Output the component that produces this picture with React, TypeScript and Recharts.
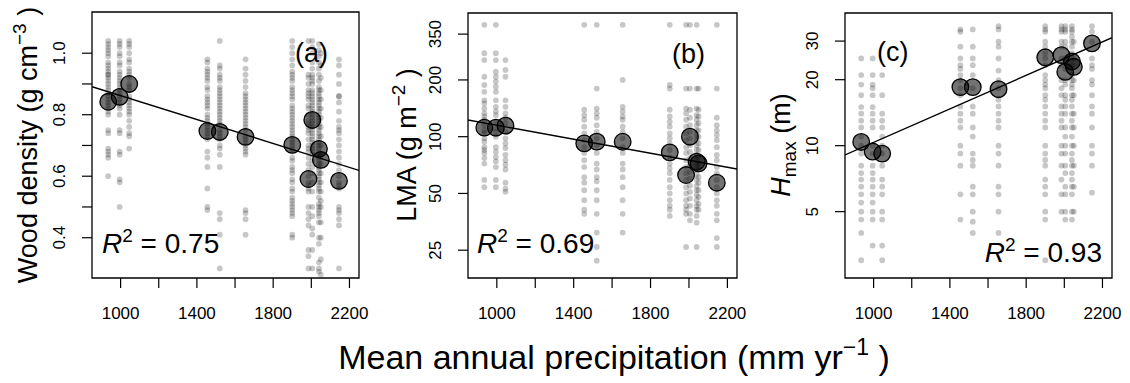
import React from 'react';
import { ScatterChart, Scatter, XAxis, YAxis, ReferenceArea } from 'recharts';

const FONT = "'Liberation Sans', Arial, Helvetica, sans-serif";

// mean annual precipitation of each site (mm/yr)
const sites = [935, 995, 1045, 1455, 1520, 1655, 1900, 1985, 2005, 2040, 2050, 2145];
const xTicks = [1000, 1200, 1400, 1600, 1800, 2000, 2200];
const xLabeled = [1000, 1400, 1800, 2200];

// site means
const densityMeans = [0.842, 0.858, 0.9, 0.747, 0.744, 0.728, 0.702, 0.591, 0.783, 0.689, 0.653, 0.585];
const lmaMeans = [111.7, 111.6, 114.4, 92.2, 94.1, 94.0, 82.6, 62.6, 100, 73.7, 72.2, 57];
const hmaxMeans = [10.4, 9.4, 9.2, 18.5, 18.5, 18.1, 25.3, 25.9, 21.7, 24.2, 22.9, 29.3];

// fitted lines (ends at the x-axis limits)
const densityFit = [{ x: 850, y: 0.891 }, { x: 2250, y: 0.619 }];
const lmaFit = [{ x: 850, y: 122.7 }, { x: 2250, y: 67.4 }];
const hmaxFit = [{ x: 850, y: 9.07 }, { x: 2250, y: 31.1 }];

// individual trees, one list per site
const densityDots = [
  [1.04, 1.03, 1.02, 1.01, 1.0, 0.99, 0.97, 0.96, 0.95, 0.94, 0.93, 0.93, 0.92, 0.91, 0.9, 0.89, 0.88, 0.87, 0.86, 0.85, 0.84, 0.83, 0.82, 0.81, 0.8, 0.75, 0.74, 0.69, 0.68, 0.67, 0.66, 0.6],
  [1.04, 1.03, 1.02, 1.0, 0.99, 0.97, 0.96, 0.94, 0.93, 0.92, 0.91, 0.9, 0.89, 0.88, 0.87, 0.86, 0.85, 0.84, 0.83, 0.82, 0.8, 0.75, 0.74, 0.68, 0.67, 0.59, 0.58, 0.5],
  [1.04, 1.03, 1.02, 1.0, 0.98, 0.97, 0.95, 0.94, 0.93, 0.92, 0.9, 0.89, 0.88, 0.86, 0.85, 0.84, 0.83, 0.82, 0.81, 0.8, 0.78, 0.76, 0.74, 0.73, 0.69],
  [0.98, 0.97, 0.95, 0.94, 0.93, 0.92, 0.91, 0.89, 0.88, 0.86, 0.85, 0.84, 0.83, 0.82, 0.8, 0.79, 0.78, 0.77, 0.76, 0.75, 0.74, 0.73, 0.72, 0.68, 0.66, 0.63, 0.56, 0.5, 0.49],
  [1.04, 0.96, 0.95, 0.93, 0.92, 0.91, 0.89, 0.88, 0.87, 0.86, 0.85, 0.84, 0.83, 0.82, 0.81, 0.8, 0.79, 0.78, 0.77, 0.75, 0.74, 0.73, 0.72, 0.7, 0.69, 0.67, 0.63, 0.48, 0.46, 0.41, 0.3],
  [0.98, 0.95, 0.93, 0.91, 0.89, 0.87, 0.86, 0.85, 0.84, 0.83, 0.82, 0.81, 0.8, 0.79, 0.78, 0.77, 0.76, 0.75, 0.73, 0.72, 0.71, 0.7, 0.69, 0.68, 0.67, 0.49, 0.48, 0.46, 0.41],
  [1.04, 1.02, 1.0, 0.98, 0.96, 0.94, 0.93, 0.92, 0.91, 0.89, 0.88, 0.87, 0.86, 0.85, 0.83, 0.82, 0.81, 0.8, 0.79, 0.78, 0.77, 0.76, 0.75, 0.74, 0.73, 0.72, 0.71, 0.7, 0.69, 0.68, 0.66, 0.65, 0.63, 0.62, 0.61, 0.59, 0.58, 0.56, 0.55, 0.53, 0.52, 0.51, 0.5, 0.49, 0.48, 0.47, 0.41, 0.4],
  [1.04, 0.93, 0.92, 0.9, 0.88, 0.87, 0.86, 0.85, 0.83, 0.82, 0.8, 0.78, 0.77, 0.76, 0.75, 0.74, 0.72, 0.7, 0.69, 0.68, 0.66, 0.64, 0.62, 0.6, 0.58, 0.57, 0.56, 0.55, 0.5, 0.48, 0.46, 0.44, 0.36, 0.34, 0.3],
  [1.04, 1.02, 1.0, 0.97, 0.95, 0.93, 0.92, 0.91, 0.9, 0.88, 0.87, 0.86, 0.85, 0.84, 0.83, 0.82, 0.81, 0.8, 0.79, 0.78, 0.77, 0.76, 0.75, 0.74, 0.73, 0.72, 0.71, 0.7, 0.69, 0.68, 0.67, 0.65, 0.63, 0.61, 0.58, 0.55, 0.5, 0.47, 0.43, 0.41, 0.36, 0.3],
  [1.03, 1.01, 0.99, 0.97, 0.95, 0.93, 0.91, 0.89, 0.88, 0.87, 0.86, 0.85, 0.84, 0.83, 0.82, 0.81, 0.8, 0.79, 0.78, 0.77, 0.76, 0.75, 0.74, 0.73, 0.72, 0.71, 0.7, 0.69, 0.68, 0.67, 0.66, 0.65, 0.64, 0.63, 0.62, 0.61, 0.6, 0.59, 0.58, 0.57, 0.56, 0.55, 0.53, 0.51, 0.5, 0.49, 0.48, 0.47, 0.45, 0.4, 0.38, 0.32, 0.3, 0.29],
  [1.0, 0.96, 0.92, 0.88, 0.85, 0.82, 0.79, 0.76, 0.73, 0.7, 0.67, 0.64, 0.61, 0.58, 0.55, 0.52, 0.5, 0.45, 0.4, 0.33, 0.28],
  [0.98, 0.96, 0.93, 0.9, 0.86, 0.86, 0.84, 0.81, 0.78, 0.76, 0.75, 0.74, 0.72, 0.7, 0.68, 0.66, 0.64, 0.62, 0.6, 0.58, 0.57, 0.56, 0.5, 0.49, 0.48, 0.46, 0.44, 0.3],
];

const lmaDots = [
  [392, 277, 255, 208, 188, 173, 156, 150, 141, 133, 128, 123, 115, 108, 104, 98, 94, 88, 85, 82, 77, 72, 59, 54],
  [392, 277, 255, 221, 208, 196, 184, 173, 156, 144, 136, 130, 120, 111, 106, 100, 88, 83, 78, 74, 69, 59, 54],
  [255, 226, 208, 156, 144, 133, 126, 118, 106, 98, 92, 87, 80, 75, 71, 67, 57, 53, 51],
  [392, 139, 130, 123, 113, 104, 96, 88, 82, 75, 69, 61, 57, 52, 46, 41, 39],
  [392, 180, 141, 133, 126, 115, 106, 98, 90, 82, 72, 67, 61, 58, 52, 46, 39, 31, 26, 22],
  [392, 200, 144, 136, 128, 123, 113, 106, 98, 88, 82, 72, 67, 61, 54, 46, 39, 31],
  [392, 188, 180, 139, 128, 120, 113, 104, 98, 92, 85, 78, 72, 68, 64, 59, 54, 50, 46, 43, 41, 38],
  [392, 180, 141, 133, 123, 113, 104, 96, 88, 82, 75, 69, 64, 59, 54, 50, 46, 43, 41, 39, 26],
  [392, 180, 139, 126, 115, 106, 98, 90, 83, 77, 71, 65, 60, 55, 51, 47, 43, 39, 36],
  [392, 180, 141, 130, 123, 115, 108, 102, 96, 90, 85, 80, 75, 71, 67, 63, 59, 55, 52, 49, 46, 43, 41, 38, 35, 26],
  [180, 139, 128, 118, 108, 100, 92, 85, 78, 72, 67, 61, 57, 52, 48, 44, 41],
  [392, 180, 126, 115, 108, 102, 96, 88, 80, 75, 69, 64, 59, 54, 50, 46, 43, 39, 36, 29, 26],
];

const hmaxDots = [
  [25, 21, 19, 17, 15, 14, 13, 12.1, 11, 10, 9.2, 8.1, 7.5, 7, 6.5, 6, 5.5, 5, 4.6, 4, 3],
  [25, 21, 19, 18.3, 17, 15, 14, 13, 12.1, 10, 9.2, 8.1, 7.5, 7, 6.5, 6, 5.5, 5, 4.6, 3.5],
  [21, 17, 14, 13, 12.1, 11, 10, 9.2, 8.1, 7, 6.5, 6, 5, 4.6, 3.5, 3],
  [33.9, 33.1, 28.3, 25, 23.3, 22.4, 21, 19.9, 18.3, 17, 15.1, 14, 13, 12.1, 10, 9.2, 8.1, 6, 4.6],
  [33.9, 28.3, 25, 23.3, 21, 18.3, 15.1, 14, 12.1, 11, 9.2, 8.6, 8.1, 6.5, 6, 5, 4.5, 4],
  [35.1, 33.9, 29.8, 28.3, 25, 22, 19.9, 18.3, 16.2, 15.1, 14, 13, 12.1, 10, 9.2, 8.1, 6.5, 6, 5, 4],
  [35.1, 33.9, 33.1, 29.8, 28.3, 26.4, 25, 23.3, 21, 19.9, 19, 18.3, 17, 16.2, 15.1, 14, 13, 12.1, 10, 9.2, 8.6, 8.1, 7, 6.5, 6, 5, 4.6, 3],
  [35.1, 33.9, 33.1, 29.8, 28.3, 25, 23.3, 19.9, 18.3, 17, 15.1, 14, 13, 12.1, 10, 9.2, 8.1, 7, 6, 5],
  [35.1, 33.9, 33.1, 29.8, 28.3, 25, 22.4, 19.9, 19, 17, 16.2, 15.1, 14, 12.1, 11, 10, 9.2, 8.1, 7.5, 6.5, 6, 5, 4.6],
  [35.1, 33.9, 33.1, 31.4, 29.8, 28.3, 26.4, 25, 23.3, 21, 19.9, 19, 18.3, 17, 16.2, 15.1, 14, 13, 12.1, 11, 10, 9.2, 8.6, 8.1, 7.5, 7, 6.5, 6, 5, 4.6],
  [29.8, 25, 19.9, 17, 14, 12.1, 10, 8.1, 6.5, 5],
  [35.1, 33.1, 29.8, 25, 23.3, 22.4, 19.9, 19, 17, 15.1, 14, 12.1, 10, 9.2, 8.1, 6.1],
];

const toDots = (cols: number[][]) => cols.flatMap((col, i) => col.map((y) => ({ x: sites[i], y })));
const toMeans = (vals: number[]) => vals.map((y, i) => ({ x: sites[i], y }));

const SmallDot = (p: any) => <circle cx={p.cx} cy={p.cy} r={2.9} fill="#000" fillOpacity={0.22} />;
const BigDot = (p: any) => (
  <circle cx={p.cx} cy={p.cy} r={8.3} fill="#000" fillOpacity={0.55} stroke="#000" strokeWidth={1.3} />
);
const NoDot = () => <g />;

const XTick = (p: any) => {
  if (!xLabeled.includes(p.payload.value)) return <g />;
  return (
    <text x={p.x} y={p.y + 31} textAnchor="middle" fontSize={17} fontFamily={FONT} fill="#000">
      {p.payload.value}
    </text>
  );
};

function makeYTick(labeled: number[], digits: number) {
  return (p: any) => {
    if (!labeled.includes(p.payload.value)) return <g />;
    const bx = p.x - 17;
    return (
      <text
        x={bx}
        y={p.y}
        transform={`rotate(-90, ${bx}, ${p.y})`}
        textAnchor="middle"
        fontSize={17}
        fontFamily={FONT}
        fill="#000"
      >
        {p.payload.value.toFixed(digits)}
      </text>
    );
  };
}

interface PanelProps {
  left: number;
  plotWidth: number;
  top: number;
  yDomain: [number, number];
  log?: boolean;
  yTicks: number[];
  yLabeled: number[];
  digits: number;
  dots: number[][];
  means: number[];
  fit: { x: number; y: number }[];
}

function Panel({ left, plotWidth, top, yDomain, log, yTicks, yLabeled, digits, dots, means, fit }: PanelProps) {
  const width = 92 + plotWidth + 28;
  return (
    <div style={{ position: 'absolute', left, top: 0 }}>
      <ScatterChart width={width} height={383} margin={{ top, right: 28, bottom: 0, left: 0 }}>
        <XAxis
          type="number"
          dataKey="x"
          domain={[850, 2250]}
          allowDataOverflow
          ticks={xTicks}
          interval={0}
          height={105}
          tickSize={10}
          tickMargin={0}
          axisLine={false}
          tickLine={{ stroke: '#000', strokeWidth: 1.2 }}
          tick={<XTick />}
        />
        <YAxis
          type="number"
          dataKey="y"
          scale={log ? 'log' : 'linear'}
          domain={yDomain}
          allowDataOverflow
          ticks={yTicks}
          interval={0}
          width={92}
          tickSize={10}
          tickMargin={0}
          axisLine={false}
          tickLine={{ stroke: '#000', strokeWidth: 1.2 }}
          tick={makeYTick(yLabeled, digits)}
        />
        <Scatter data={toDots(dots)} shape={SmallDot} isAnimationActive={false} />
        <Scatter data={fit} shape={NoDot} line={{ stroke: '#000', strokeWidth: 1.4 }} isAnimationActive={false} />
        <Scatter data={toMeans(means)} shape={BigDot} isAnimationActive={false} />
        <ReferenceArea
          x1={850}
          x2={2250}
          y1={yDomain[0]}
          y2={yDomain[1]}
          fill="none"
          stroke="#000"
          strokeWidth={1.3}
          ifOverflow="visible"
        />
      </ScatterChart>
    </div>
  );
}

const T = { fontFamily: FONT, fill: '#000' };

export default function App() {
  return (
    <div style={{ position: 'absolute', left: 0, top: 0, width: 1130, height: 383, background: '#fff' }}>
      <Panel
        left={0}
        plotWidth={267}
        top={12}
        yDomain={[0.269, 1.134]}
        yTicks={[0.4, 0.5, 0.6, 0.7, 0.8, 0.9, 1.0]}
        yLabeled={[0.4, 0.6, 0.8, 1.0]}
        digits={1}
        dots={densityDots}
        means={densityMeans}
        fit={densityFit}
      />
      <Panel
        left={376}
        plotWidth={269}
        top={13}
        yDomain={[17.8, 453]}
        log
        yTicks={[25, 50, 100, 200, 350]}
        yLabeled={[25, 50, 100, 200, 350]}
        digits={0}
        dots={lmaDots}
        means={lmaMeans}
        fit={lmaFit}
      />
      <Panel
        left={753}
        plotWidth={267}
        top={13}
        yDomain={[2.49, 40.3]}
        log
        yTicks={[5, 10, 20, 30]}
        yLabeled={[5, 10, 20, 30]}
        digits={0}
        dots={hmaxDots}
        means={hmaxMeans}
        fit={hmaxFit}
      />
      <svg width={1130} height={383} style={{ position: 'absolute', left: 0, top: 0, pointerEvents: 'none' }}>
        <text {...T} x={37} y={145} transform="rotate(-90, 37, 145)" textAnchor="middle" fontSize={27}>
          Wood density (g cm<tspan fontSize={19} dy={-11}>−3</tspan>
          <tspan dy={11}> )</tspan>
        </text>
        <text {...T} x={416} y={145} transform="rotate(-90, 416, 145)" textAnchor="middle" fontSize={27}>
          LMA (g m<tspan fontSize={19} dy={-11}>−2</tspan>
          <tspan dy={11}> )</tspan>
        </text>
        <text {...T} x={790} y={145} transform="rotate(-90, 790, 145)" textAnchor="middle" fontSize={27}>
          <tspan fontStyle="italic">H</tspan>
          <tspan fontSize={19} dy={6}>max</tspan>
          <tspan dy={-6}> (m)</tspan>
        </text>

        <text {...T} x={295} y={62} fontSize={27}>(a)</text>
        <text {...T} x={672} y={63} fontSize={27}>(b)</text>
        <text {...T} x={877} y={61} fontSize={27}>(c)</text>

        <text {...T} x={102} y={253} fontSize={28}>
          <tspan fontStyle="italic">R</tspan>
          <tspan fontSize={19} dy={-11}>2</tspan>
          <tspan dy={11}> = 0.75</tspan>
        </text>
        <text {...T} x={477} y={253} fontSize={28}>
          <tspan fontStyle="italic">R</tspan>
          <tspan fontSize={19} dy={-11}>2</tspan>
          <tspan dy={11}> = 0.69</tspan>
        </text>
        <text {...T} x={1102} y={262} fontSize={28} textAnchor="end">
          <tspan fontStyle="italic">R</tspan>
          <tspan fontSize={19} dy={-11}>2</tspan>
          <tspan dy={11}> = 0.93</tspan>
        </text>

        <text {...T} x={614} y={369} fontSize={34} textAnchor="middle">
          Mean annual precipitation (mm yr<tspan fontSize={23} dy={-14}>−1</tspan>
          <tspan dy={14}> )</tspan>
        </text>
      </svg>
    </div>
  );
}
